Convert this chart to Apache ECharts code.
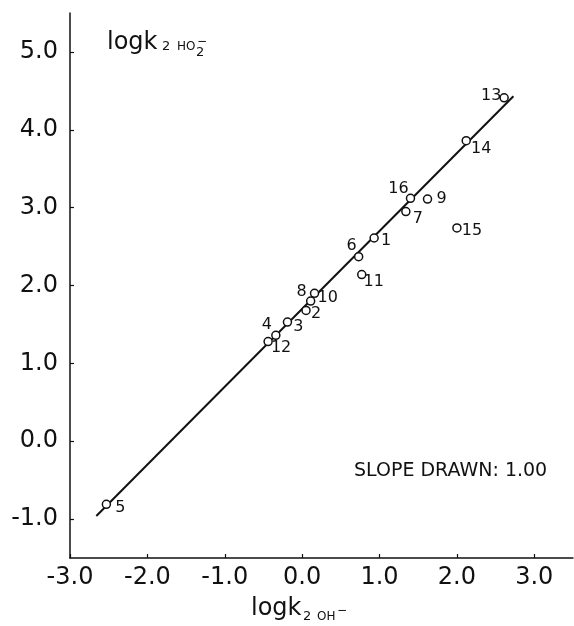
<!DOCTYPE html>
<html><head><meta charset="utf-8">
<script src="https://cdn.jsdelivr.net/npm/echarts@6/dist/echarts.min.js"></script>
<style>html,body{margin:0;padding:0;background:#fff}#c{width:574px;height:626px}</style>
</head><body><div id="c"></div>
<script>
// ---- data ----
const pointIds = ['1','2','3','4','5','6','7','8','9','10','11','12','13','14','15','16'];
const logkOH  = [0.93, 0.05, -0.19, -0.34, -2.53, 0.73, 1.34, 0.16, 1.62, 0.11, 0.77, -0.44, 2.61, 2.12, 2.00, 1.40];
const logkHO2 = [2.61, 1.68, 1.53, 1.36, -0.81, 2.37, 2.95, 1.90, 3.11, 1.80, 2.14, 1.28, 4.41, 3.86, 2.74, 3.12];
const fitLineX = [-2.66, 2.73];
const fitLineY = [-0.96, 4.43];
const xTickValues = [-3, -2, -1, 0, 1, 2, 3];
const yTickValues = [-1, 0, 1, 2, 3, 4, 5];
const slopeNote = 'SLOPE DRAWN: 1.00';

// ---- styling (label placement per point, pixel offsets) ----
const labelOffsets = {
  '1':[12,3], '2':[10,3], '3':[11,5], '4':[-9,-10], '5':[14,4], '6':[-7,-11],
  '7':[12,7], '8':[-13,-1], '9':[14,0], '10':[17,-3], '11':[12,7], '12':[13,6],
  '13':[-13,-2], '14':[15,8], '15':[15,3], '16':[-12,-9]
};
const FONT = "'DejaVu Sans', sans-serif";
const INK = '#111';

const chart = echarts.init(document.getElementById('c'), null, {renderer:'canvas'});
const scatterData = pointIds.map((id, i) => ({
  name: id,
  value: [logkOH[i], logkHO2[i]],
  label: { offset: labelOffsets[id] }
}));

function axisCommon(vals) {
  return {
    type: 'value',
    axisLine: { show: true, onZero: false, lineStyle: { color: INK, width: 1.5 } },
    axisTick: { show: true, inside: true, length: 4, lineStyle: { color: INK, width: 1.2 }, customValues: vals },
    axisLabel: { customValues: vals, color: INK, fontFamily: FONT, fontSize: 24,
                 formatter: v => Number(v).toFixed(1) },
    splitLine: { show: false }
  };
}

const xAxis = Object.assign(axisCommon(xTickValues), { min: -3, max: 3.5 });
xAxis.axisLabel.margin = 8;
const yAxis = Object.assign(axisCommon(yTickValues), { min: -1.5, max: 5.5 });
yAxis.axisLabel.margin = 12;

function txt(x, y, text, size) {
  return { type: 'text', x: x, y: y, style: { text: text, font: size + 'px ' + FONT, fill: INK, align: 'left', verticalAlign: 'middle' } };
}

chart.setOption({
  animation: false,
  backgroundColor: '#fff',
  grid: { left: 70, right: 1, top: 13, bottom: 68, containLabel: false },
  xAxis: xAxis,
  yAxis: yAxis,
  series: [
    {
      type: 'line',
      data: fitLineX.map((x, i) => [x, fitLineY[i]]),
      showSymbol: false,
      lineStyle: { color: INK, width: 2 },
      z: 2
    },
    {
      type: 'scatter',
      data: scatterData,
      symbol: 'circle',
      symbolSize: 8,
      itemStyle: { color: '#fff', borderColor: INK, borderWidth: 1.5, opacity: 1 },
      label: { show: true, position: 'inside', formatter: p => p.name,
               color: INK, fontFamily: FONT, fontSize: 16, align: 'center', verticalAlign: 'middle' },
      z: 3
    }
  ],
  graphic: [
    txt(107, 43, 'logk', 24),
    txt(162, 47, '2', 13),
    txt(177, 47, 'HO', 12),
    txt(196, 53, '2', 13),
    txt(197, 42, '−', 12),
    txt(251, 609, 'logk', 24),
    txt(303, 617, '2', 13),
    txt(317, 617, 'OH', 12),
    txt(337, 611, '−', 12),
    txt(354, 471, slopeNote, 19)
  ]
});
</script></body></html>
